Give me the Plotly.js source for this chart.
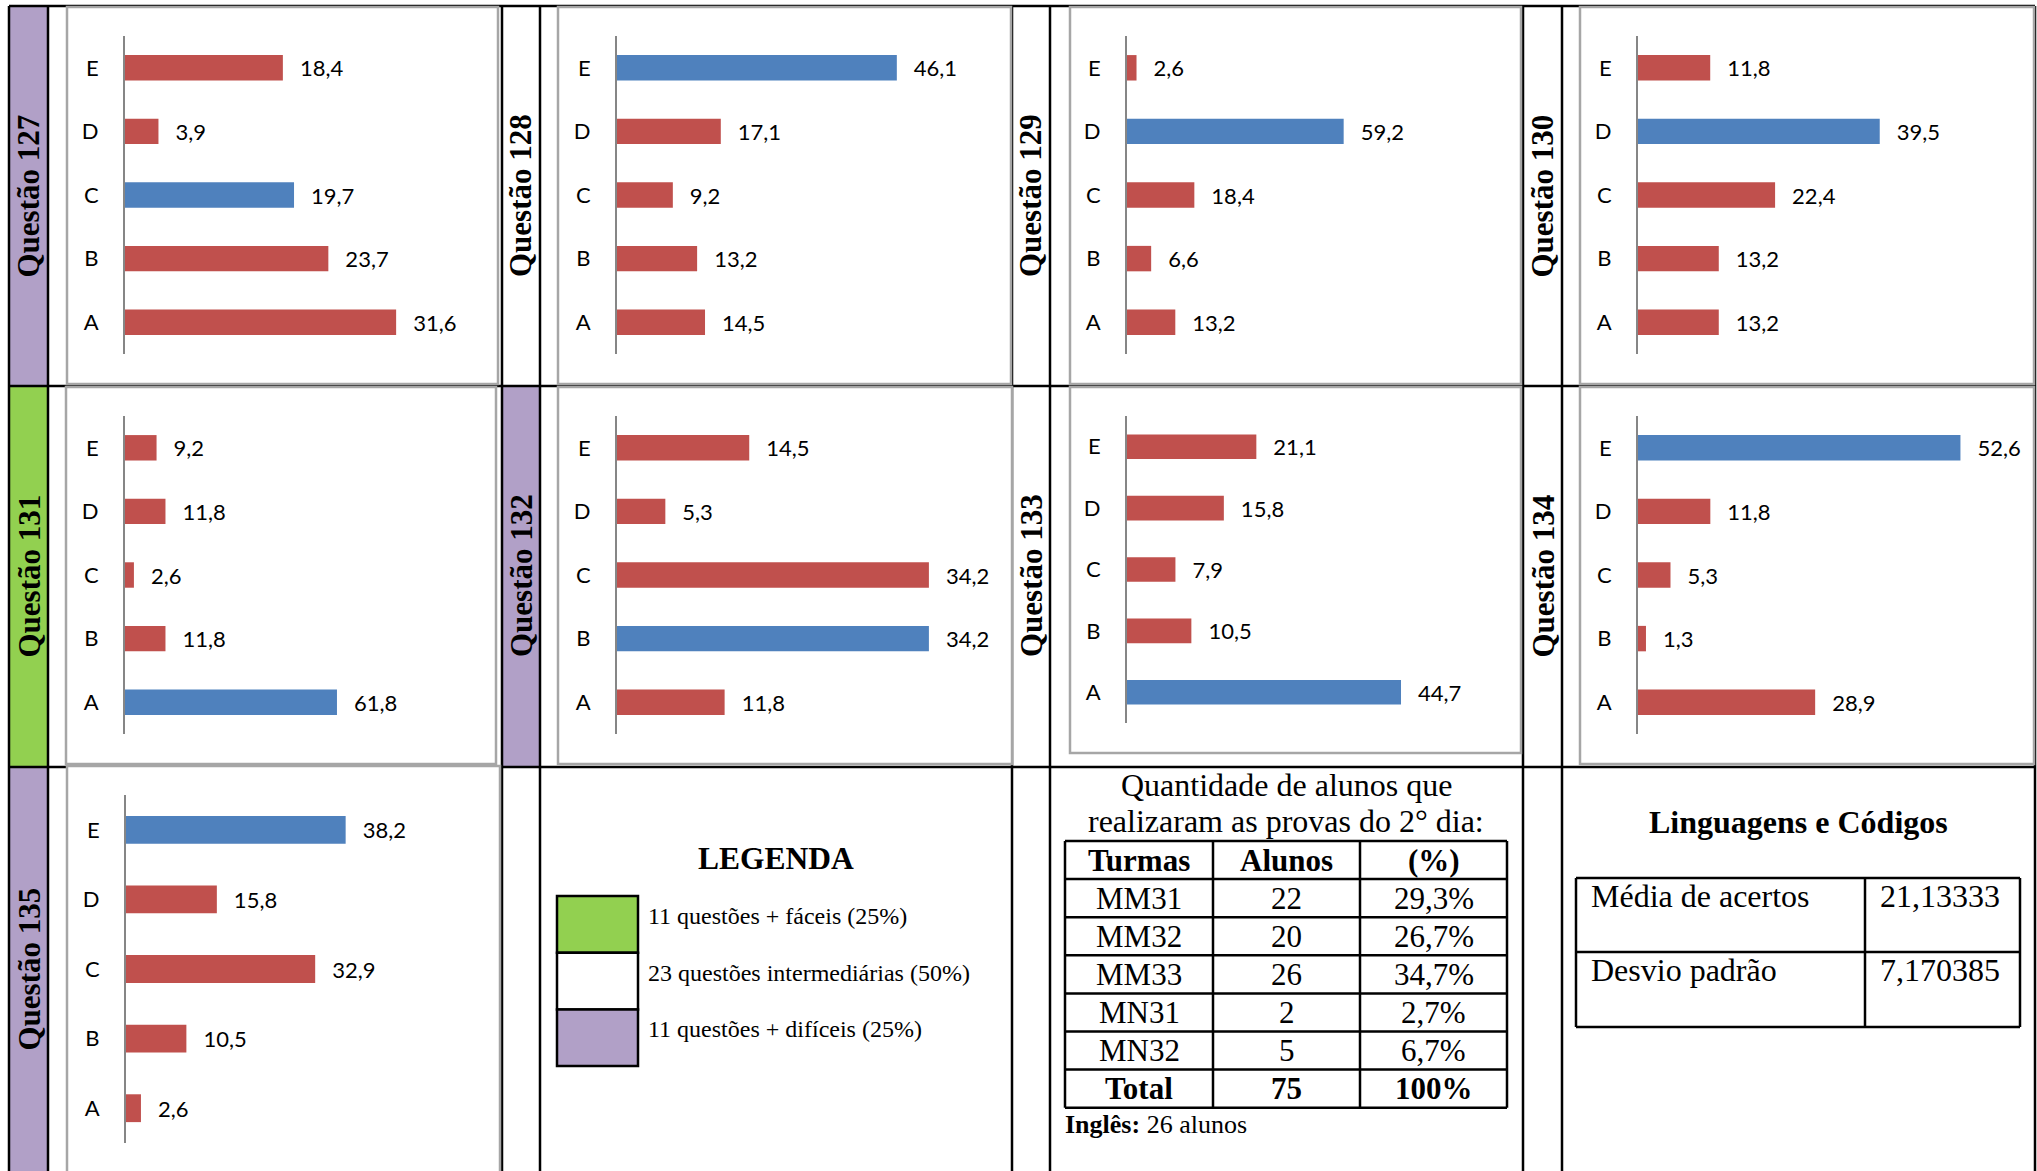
<!DOCTYPE html>
<html>
<head>
<meta charset="utf-8">
<script src="https://cdn.plot.ly/plotly-3.0.1.min.js"></script>
<style>html,body{margin:0;padding:0;background:#fff;}#chart{width:2037px;height:1171px;}</style>
</head>
<body>
<div id="chart"></div>
<script>
// ---------------- DATA ----------------
const questoes = [127, 128, 129, 130, 131, 132, 133, 134, 135];
const opcoes = ['A', 'B', 'C', 'D', 'E'];
// percentages per option, order A..E
const q127 = [31.6, 23.7, 19.7, 3.9, 18.4];
const q128 = [14.5, 13.2, 9.2, 17.1, 46.1];
const q129 = [13.2, 6.6, 18.4, 59.2, 2.6];
const q130 = [13.2, 13.2, 22.4, 39.5, 11.8];
const q131 = [61.8, 11.8, 2.6, 11.8, 9.2];
const q132 = [11.8, 34.2, 34.2, 5.3, 14.5];
const q133 = [44.7, 10.5, 7.9, 15.8, 21.1];
const q134 = [28.9, 1.3, 5.3, 11.8, 52.6];
const q135 = [2.6, 10.5, 32.9, 15.8, 38.2];
const gabarito = ['C', 'E', 'D', 'D', 'A', 'B', 'A', 'E', 'E'];
const dificuldade = ['dificil', 'media', 'media', 'media', 'facil', 'dificil', 'media', 'media', 'dificil'];

const legendaTextos = ['11 questões + fáceis (25%)', '23 questões intermediárias (50%)', '11 questões + difíceis (25%)'];

const turmas = ['MM31', 'MM32', 'MM33', 'MN31', 'MN32'];
const alunos = [22, 20, 26, 2, 5];
const percentuais = [29.3, 26.7, 34.7, 2.7, 6.7];
const totalAlunos = 75;
const totalPercent = '100%';
const ingles = 26;

const mediaAcertos = '21,13333';
const desvioPadrao = '7,170385';

// ---------------- LAYOUT GEOMETRY ----------------
const W = 2037, H = 1171;
const X = p => p / W;
const Y = p => 1 - p / H;

const allValues = [q127, q128, q129, q130, q131, q132, q133, q134, q135];
const panels = [
  {ax: 125, top: 36, bot: 354, ppu: 8.58, lx: 28.5, ly: 196, box: [67, 7, 498, 384]},
  {ax: 617, top: 36, bot: 354, ppu: 6.07, lx: 521, ly: 196, box: [558, 7, 1011, 384]},
  {ax: 1127, top: 36, bot: 354, ppu: 3.66, lx: 1031, ly: 196, box: [1070, 7, 1521, 384]},
  {ax: 1638, top: 36, bot: 354, ppu: 6.12, lx: 1542.5, ly: 196, box: [1580, 7, 2034, 384]},
  {ax: 125, top: 416, bot: 734, ppu: 3.43, lx: 28.5, ly: 576, box: [66, 387, 496, 764]},
  {ax: 617, top: 416, bot: 734, ppu: 9.12, lx: 521, ly: 576, box: [558, 387, 1012, 764]},
  {ax: 1127, top: 416, bot: 723, ppu: 6.13, lx: 1031, ly: 576, box: [1070, 387, 1521, 753]},
  {ax: 1638, top: 416, bot: 734, ppu: 6.13, lx: 1542.5, ly: 576, box: [1580, 387, 2034, 764]},
  {ax: 126, top: 795, bot: 1143, ppu: 5.75, lx: 28.5, ly: 969, box: [67, 766, 500, 1190]}
];
const labelCells = [
  [9, 6, 48, 386], [502, 6, 540, 386], [1012, 6, 1050, 386], [1523, 6, 1562, 386],
  [9, 386, 48, 767], [502, 386, 540, 767], [1012, 386, 1050, 767], [1523, 386, 1562, 767],
  [9, 767, 48, 1190]
];
const PLOTW = 330;
const RED = '#C0504D', BLUE = '#4F81BD';
const PURPLE = '#B1A0C7', GREEN = '#92D050';
const SERIF = 'Liberation Serif, Times New Roman, serif';
const SANS = 'Lato, Open Sans, sans-serif';

const traces = [];
const layout = {
  width: W, height: H,
  margin: {l: 0, r: 0, t: 0, b: 0},
  paper_bgcolor: '#fff', plot_bgcolor: 'rgba(0,0,0,0)',
  separators: ',.',
  showlegend: false,
  hovermode: false,
  shapes: [], annotations: []
};

const fillFor = d => d === 'facil' ? GREEN : (d === 'dificil' ? PURPLE : '#fff');
labelCells.forEach((c, i) => {
  layout.shapes.push({type: 'rect', xref: 'paper', yref: 'paper', layer: 'below',
    x0: X(c[0]), x1: X(c[2]), y0: Y(c[3]), y1: Y(c[1]),
    fillcolor: fillFor(dificuldade[i]), line: {width: 0}});
});

const vLines = [9, 48, 502, 540, 1012, 1050, 1523, 1562, 2035];
const hLines = [6, 386, 767];
vLines.forEach(x => layout.shapes.push({type: 'line', xref: 'paper', yref: 'paper', layer: 'below',
  x0: X(x), x1: X(x), y0: Y(6), y1: Y(1175), line: {color: '#000', width: 2.5}}));
hLines.forEach(y => layout.shapes.push({type: 'line', xref: 'paper', yref: 'paper', layer: 'below',
  x0: X(9), x1: X(2035), y0: Y(y), y1: Y(y), line: {color: '#000', width: 2.5}}));

panels.forEach((p, i) => {
  const n = i + 1;
  const sfx = n === 1 ? '' : String(n);
  const vals = allValues[i];
  layout.shapes.push({type: 'rect', xref: 'paper', yref: 'paper', layer: 'below',
    x0: X(p.box[0]), x1: X(p.box[2]), y0: Y(p.box[3]), y1: Y(p.box[1]),
    fillcolor: '#fff', line: {color: '#A6A6A6', width: 2.5}});
  traces.push({
    type: 'bar', orientation: 'h',
    x: vals, y: opcoes,
    xaxis: 'x' + sfx, yaxis: 'y' + sfx,
    width: 0.4,
    marker: {color: opcoes.map(o => o === gabarito[i] ? BLUE : RED), line: {width: 0}},
    texttemplate: '\u00A0\u00A0\u2009%{x:.1f}',
    textposition: 'outside', cliponaxis: false, constraintext: 'none',
    textfont: {family: SANS, size: 22, color: '#000'}
  });
  layout['xaxis' + sfx] = {domain: [X(p.ax), X(p.ax + PLOTW)], range: [0, PLOTW / p.ppu], visible: false,
    fixedrange: true, anchor: 'y' + sfx};
  layout['yaxis' + sfx] = {domain: [Y(p.bot), Y(p.top)], type: 'category', categoryorder: 'array',
    categoryarray: opcoes, range: [-0.5, 4.5], showline: true, linecolor: '#868686', linewidth: 2,
    ticks: '', showgrid: false, zeroline: false, fixedrange: true, ticklabelstandoff: 20,
    tickfont: {family: SANS, size: 22, color: '#000'}, anchor: 'x' + sfx};
  layout.annotations.push({xref: 'paper', yref: 'paper', x: X(p.lx), y: Y(p.ly),
    xanchor: 'center', yanchor: 'middle', textangle: -90, showarrow: false,
    text: '<b>Questão ' + questoes[i] + '</b>', font: {family: SERIF, size: 31, color: '#000'}});
});

// legend
layout.annotations.push({xref: 'paper', yref: 'paper', x: X(776), y: Y(858), xanchor: 'center', yanchor: 'middle',
  showarrow: false, text: '<b>LEGENDA</b>', font: {family: SERIF, size: 31.5, color: '#000'}});
const legFills = [GREEN, '#fff', PURPLE];
legFills.forEach((f, i) => {
  const y0 = 896 + i * 56.7, y1 = y0 + 56.7;
  layout.shapes.push({type: 'rect', xref: 'paper', yref: 'paper', layer: 'below',
    x0: X(557), x1: X(638), y0: Y(y1), y1: Y(y0), fillcolor: f, line: {color: '#000', width: 2.5}});
  layout.annotations.push({xref: 'paper', yref: 'paper', x: X(646), y: Y(y0 + 20), xanchor: 'left', yanchor: 'middle',
    showarrow: false, text: legendaTextos[i], font: {family: SERIF, size: 24, color: '#000'}});
});

// student table
layout.annotations.push({xref: 'paper', yref: 'paper', x: X(1286), y: Y(785), xanchor: 'center', yanchor: 'middle',
  showarrow: false, text: 'Quantidade de alunos que', font: {family: SERIF, size: 32, color: '#000'}});
layout.annotations.push({xref: 'paper', yref: 'paper', x: X(1286), y: Y(821), xanchor: 'center', yanchor: 'middle',
  showarrow: false, text: 'realizaram as provas do 2° dia:', font: {family: SERIF, size: 32, color: '#000'}});
const tCols = [1065, 1213, 1360, 1507];
const tTop = 841, tRow = 38.1;
const tRows = [['<b>Turmas</b>', '<b>Alunos</b>', '<b>(%)</b>']];
turmas.forEach((t, i) => tRows.push([t, String(alunos[i]), percentuais[i].toFixed(1).replace('.', ',') + '%']));
tRows.push(['<b>Total</b>', '<b>' + totalAlunos + '</b>', '<b>' + totalPercent + '</b>']);
for (let r = 0; r <= tRows.length; r++) {
  layout.shapes.push({type: 'line', xref: 'paper', yref: 'paper', x0: X(tCols[0]), x1: X(tCols[3]),
    y0: Y(tTop + r * tRow), y1: Y(tTop + r * tRow), line: {color: '#000', width: 2.5}});
}
tCols.forEach(c => layout.shapes.push({type: 'line', xref: 'paper', yref: 'paper', x0: X(c), x1: X(c),
  y0: Y(tTop + tRows.length * tRow), y1: Y(tTop), line: {color: '#000', width: 2.5}}));
tRows.forEach((row, r) => row.forEach((txt, c) => {
  layout.annotations.push({xref: 'paper', yref: 'paper', x: X((tCols[c] + tCols[c + 1]) / 2), y: Y(tTop + r * tRow + tRow / 2),
    xanchor: 'center', yanchor: 'middle', showarrow: false, text: txt, font: {family: SERIF, size: 31, color: '#000'}});
}));
layout.annotations.push({xref: 'paper', yref: 'paper', x: X(1063), y: Y(1124), xanchor: 'left', yanchor: 'middle',
  showarrow: false, text: '<b>Inglês:</b> ' + ingles + ' alunos', font: {family: SERIF, size: 26, color: '#000'}});

// Linguagens e Códigos
layout.annotations.push({xref: 'paper', yref: 'paper', x: X(1798), y: Y(822), xanchor: 'center', yanchor: 'middle',
  showarrow: false, text: '<b>Linguagens e Códigos</b>', font: {family: SERIF, size: 32, color: '#000'}});
const lCols = [1576, 1865, 2020];
const lRowsY = [878, 952, 1027];
lRowsY.forEach(y => layout.shapes.push({type: 'line', xref: 'paper', yref: 'paper', x0: X(lCols[0]), x1: X(lCols[2]),
  y0: Y(y), y1: Y(y), line: {color: '#000', width: 2.5}}));
lCols.forEach(x => layout.shapes.push({type: 'line', xref: 'paper', yref: 'paper', x0: X(x), x1: X(x),
  y0: Y(1027), y1: Y(878), line: {color: '#000', width: 2.5}}));
const lTable = [['Média de acertos', mediaAcertos], ['Desvio padrão', desvioPadrao]];
lTable.forEach((row, r) => {
  layout.annotations.push({xref: 'paper', yref: 'paper', x: X(1589), y: Y(lRowsY[r] + 18), xanchor: 'left', yanchor: 'middle',
    showarrow: false, text: row[0], font: {family: SERIF, size: 32, color: '#000'}});
  layout.annotations.push({xref: 'paper', yref: 'paper', x: X(1878), y: Y(lRowsY[r] + 18), xanchor: 'left', yanchor: 'middle',
    showarrow: false, text: row[1], font: {family: SERIF, size: 32, color: '#000'}});
});

Plotly.newPlot('chart', traces, layout, {displayModeBar: false, staticPlot: true});
</script>
</body>
</html>
